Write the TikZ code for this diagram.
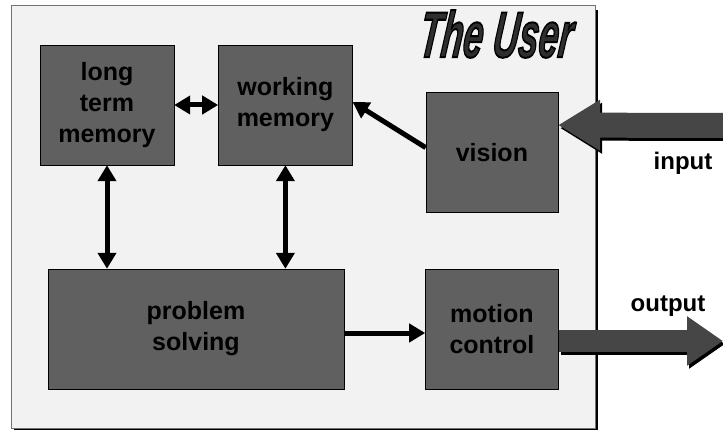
\documentclass[tikz,border=0pt]{standalone}
\usepackage{fontspec}
\setmainfont{Liberation Sans}
\usetikzlibrary{positioning,arrows.meta}

\definecolor{paper}{HTML}{F2F2F2}
\definecolor{boxgray}{HTML}{606060}
\definecolor{fatgray}{HTML}{464646}

\newcommand\outlined[1]{\special{pdf:literal direct 2 Tr 2 w 0 0 0 RG}#1\special{pdf:literal direct 0 Tr}}

\begin{document}
\begin{tikzpicture}[
        x=1pt, y=1pt,
        unit/.style={rectangle, draw=black, fill=boxgray, thin, minimum width=134pt, minimum height=120pt, inner sep=0pt, align=center, font=\fontsize{25}{31}\selectfont\bfseries},
        label/.style={font=\fontsize{24}{28}\selectfont\bfseries, inner sep=0pt},
        flow/.style={line width=5pt, -{Triangle[length=16pt,width=18pt]}},
        both/.style={line width=5pt, {Triangle[length=16pt,width=18pt]}-{Triangle[length=16pt,width=18pt]}},
        fatin/.style={line width=25pt, -{Triangle[length=42pt,width=48pt]}},
        fatout/.style={line width=22pt, -{Triangle[length=36pt,width=47pt]}},
        node distance= 56pt and 44pt
        ]
        \useasboundingbox (0,0) rectangle (723,429);

        % frame of the user
        \fill[black] (14,-5) rectangle (598,419);
        \draw[draw=black!55, fill=paper] (11,1) rectangle (595,424);

        \node[font=\fontsize{65}{65}\selectfont\bfseries\itshape, xscale=0.55, xslant=0.22, transform shape, text=black!82] (title) at (497,395) {\outlined{The User}};

        \node[unit]      (ltm)                          at (107,324)  {long\\term\\memory};
        \node[unit]      (wm)       [right=of ltm]                    {working\\memory};
        \node[unit, minimum width=296pt] (ps)           at (196,100)  {problem\\solving};
        \node[unit, minimum width=133pt] (mc) [right=81pt of ps]      {motion\\control};
        \node[unit, minimum width=132pt] (vision) [above=of mc]       {vision};

        \coordinate (inEnd)  at (740,303.5);
        \coordinate (outTip) at (723,88);

        %Lines
        \draw[both] (ltm) -- (wm);
        \draw[both] (ltm.south) -- (ltm.south |- ps.north);
        \draw[both] (wm.south) -- (wm.south |- ps.north);
        \draw[flow] ([yshift=5pt]vision.west) -- ([yshift=3pt]wm.east);
        \draw[flow] (ps.east |- 0,96) -- (mc.west |- 0,96);

        %Input and output
        \draw[fatin, black, transform canvas={xshift=2pt,yshift=-3pt}] (inEnd) -- ([yshift=27.5pt]vision.east);
        \draw[fatin, fatgray] (inEnd) -- ([yshift=27.5pt]vision.east);
        \draw[fatout, black, transform canvas={xshift=2pt,yshift=-3pt}] ([yshift=-12pt]mc.east) -- (outTip);
        \draw[fatout, fatgray] ([yshift=-12pt]mc.east) -- (outTip);

        \node[label] (input)  at (683,266) {input};
        \node[label] (output) at (668,123) {output};

    \end{tikzpicture}
\end{document}
